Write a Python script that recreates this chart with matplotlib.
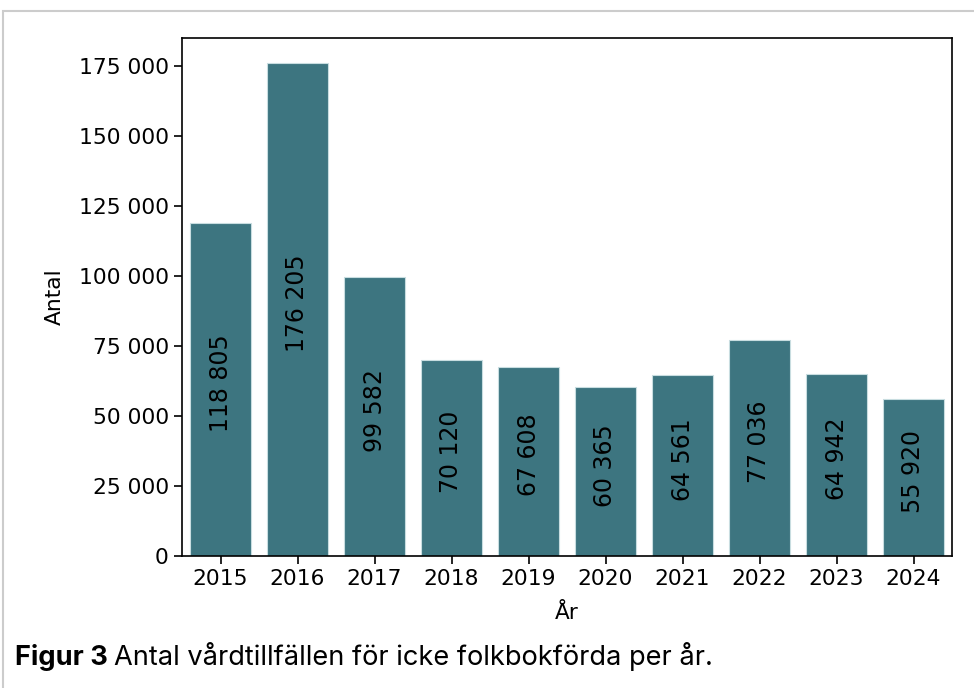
import matplotlib
matplotlib.use("Agg")
import matplotlib.pyplot as plt
from matplotlib.ticker import FuncFormatter
from matplotlib.patches import Rectangle

years = ["2015", "2016", "2017", "2018", "2019", "2020", "2021", "2022", "2023", "2024"]
antal = [118805, 176205, 99582, 70120, 67608, 60365, 64561, 77036, 64942, 55920]

def fmt(v):
    return f"{int(v):,}".replace(",", " ")

fig = plt.figure(figsize=(9.74, 6.88), dpi=100)
ax = fig.add_axes([182 / 974, 1 - 556 / 688, 770 / 974, 518 / 688])

# light frame around the figure
fig.patches.append(Rectangle((3 / 974, -0.1), 1.2, 1 - 11 / 688 + 0.1, transform=fig.transFigure,
                             fill=False, edgecolor="#cccccc", linewidth=1.5))

bars = ax.bar(range(len(years)), antal, width=0.8, color="#3d7580", edgecolor="#c8dde0", linewidth=0.8)
for i, v in enumerate(antal):
    ax.annotate(fmt(v), xy=(i, v / 2), xytext=(0, 4.5), textcoords="offset points",
                ha="center", va="center", rotation=90, fontsize=17)

ax.set_xlim(-0.5, 9.5)
ax.set_ylim(0, 185000)
ax.set_yticks(range(0, 175001, 25000))
ax.yaxis.set_major_formatter(FuncFormatter(lambda v, p: fmt(v)))
ax.set_xticks(range(len(years)))
ax.set_xticklabels(years)
ax.tick_params(labelsize=15.7, length=6, width=1.2)
for s in ax.spines.values():
    s.set_linewidth(1.2)
ax.set_xlabel("År", fontsize=15.7, labelpad=10)
ax.set_ylabel("Antal", fontsize=15.7, labelpad=10)

fig.canvas.draw()
r = fig.canvas.get_renderer()
t1 = fig.text(15 / 974, 1 - 665 / 688, "Figur 3", fontsize=19.6, fontweight="bold", family="Inter")
w = t1.get_window_extent(r).width
fig.text((15 + w + 6) / 974, 1 - 665 / 688, "Antal vårdtillfällen för icke folkbokförda per år.",
         fontsize=19.6, family="Inter")

fig.savefig("out.png", dpi=100)
